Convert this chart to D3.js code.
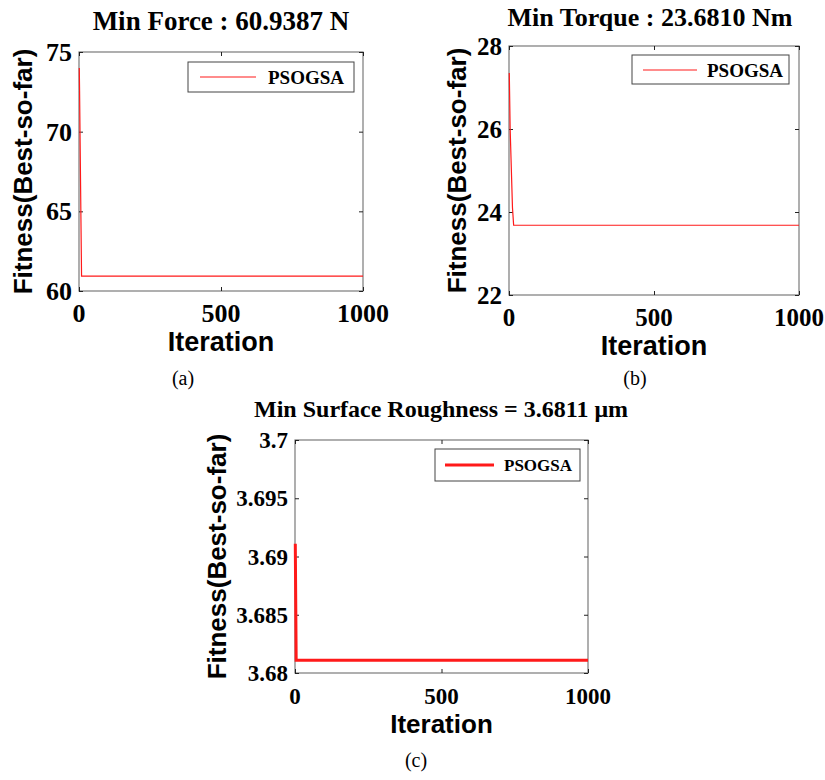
<!DOCTYPE html>
<html>
<head>
<meta charset="utf-8">
<script src="https://cdn.jsdelivr.net/npm/d3@7"></script>
<style>
  body { margin: 0; background: #fff; }
  .tick-label { font-family: "Liberation Serif", "Times New Roman", serif; font-weight: bold; }
  .title { font-family: "Liberation Serif", "Times New Roman", serif; font-weight: bold; }
  .axis-label { font-family: "Liberation Sans", Arial, sans-serif; font-weight: bold; }
  .caption { font-family: "Liberation Serif", "Times New Roman", serif; font-size: 20px; }
  .legend-text { font-family: "Liberation Serif", "Times New Roman", serif; font-weight: bold; }
</style>
</head>
<body>
<div id="chart"></div>
<script>
// data
const iterationTicks = [0, 500, 1000]

const forceTicks = [60, 65, 70, 75]
const forceIter = [1, 2, 9, 1000]
const forceBest = [74.0, 72.6, 60.9387, 60.9387]

const torqueTicks = [22, 24, 26, 28]
const torqueIter = [1, 4, 12, 16, 1000]
const torqueBest = [27.35, 26.0, 24.1, 23.681, 23.681]

const roughTicks = [3.68, 3.685, 3.69, 3.695, 3.7]
const roughIter = [1, 4, 1000]
const roughBest = [3.6911, 3.6811, 3.6811]

const legendName = "PSOGSA"

const svg = d3.select("#chart")
    .append("svg")
    .attr("width", 825)
    .attr("height", 780)

const panels = [
    {
        title: "Min Force : 60.9387 N", caption: "(a)",
        x: 79, y: 52, w: 284, h: 239,
        yDomain: [60, 75], yTicks: forceTicks, yFormat: d3.format("d"),
        iter: forceIter, vals: forceBest, lineWidth: 1.2,
        titleX: 221, titleY: 30, titleSize: 27, tickSize: 26, labelSize: 27,
        captionX: 183, captionY: 385, yLabelX: 23,
        legend: { x: 188, y: 62, w: 166, h: 30, x1: 12, x2: 68, tx: 80, size: 19 }
    },
    {
        title: "Min Torque : 23.6810 Nm", caption: "(b)",
        x: 509, y: 46, w: 290, h: 249,
        yDomain: [22, 28], yTicks: torqueTicks, yFormat: d3.format("d"),
        iter: torqueIter, vals: torqueBest, lineWidth: 1.2,
        titleX: 650, titleY: 26, titleSize: 26, tickSize: 25, labelSize: 27,
        captionX: 635, captionY: 385, yLabelX: 457,
        legend: { x: 632, y: 55, w: 157, h: 29, x1: 11, x2: 65, tx: 75, size: 19 }
    },
    {
        title: "Min Surface Roughness = 3.6811 \u03bcm", caption: "(c)",
        x: 295, y: 440, w: 293, h: 233,
        yDomain: [3.68, 3.7], yTicks: roughTicks, yFormat: d => String(+d.toFixed(3)),
        iter: roughIter, vals: roughBest, lineWidth: 3,
        titleX: 441, titleY: 417, titleSize: 24, tickSize: 23, labelSize: 26,
        captionX: 416, captionY: 767, yLabelX: 217,
        legend: { x: 435, y: 449, w: 145, h: 32, x1: 10, x2: 59, tx: 69, size: 17 }
    }
]

function drawPanel(p) {
    const g = svg.append("g")
        .attr("transform", `translate(${p.x}, ${p.y})`)

    const xScale = d3.scaleLinear()
        .domain([0, 1000])
        .range([0, p.w])

    const yScale = d3.scaleLinear()
        .domain(p.yDomain)
        .range([p.h, 0])

    // box
    g.append("rect")
        .attr("width", p.w)
        .attr("height", p.h)
        .attr("fill", "none")
        .attr("stroke", "#7a7a7a")
        .attr("stroke-width", 1.2)

    // inward ticks on all four sides
    const xAxis = d3.axisBottom(xScale).tickValues(iterationTicks).tickSizeInner(-4).tickSizeOuter(0).tickFormat("")
    const xAxisTop = d3.axisTop(xScale).tickValues(iterationTicks).tickSizeInner(-4).tickSizeOuter(0).tickFormat("")
    const yAxis = d3.axisLeft(yScale).tickValues(p.yTicks).tickSizeInner(-4).tickSizeOuter(0).tickFormat("")
    const yAxisRight = d3.axisRight(yScale).tickValues(p.yTicks).tickSizeInner(-4).tickSizeOuter(0).tickFormat("")

    g.append("g").attr("transform", `translate(0, ${p.h})`).call(xAxis)
    g.append("g").call(xAxisTop)
    g.append("g").call(yAxis)
    g.append("g").attr("transform", `translate(${p.w}, 0)`).call(yAxisRight)
    g.selectAll(".domain").remove()
    g.selectAll(".tick line").attr("stroke", "#222")

    // tick labels
    g.selectAll(".x-tick-label")
        .data(iterationTicks)
        .join("text")
        .attr("class", "tick-label")
        .style("font-size", p.tickSize + "px")
        .attr("x", d => xScale(d))
        .attr("y", p.h + 31)
        .attr("text-anchor", "middle")
        .text(d => d)

    g.selectAll(".y-tick-label")
        .data(p.yTicks)
        .join("text")
        .attr("class", "tick-label")
        .style("font-size", p.tickSize + "px")
        .attr("x", -7)
        .attr("y", d => yScale(d))
        .attr("dy", "0.35em")
        .attr("text-anchor", "end")
        .text(p.yFormat)

    // line
    const points = p.iter.map((it, i) => [it, p.vals[i]])
    const line = d3.line()
        .x(d => xScale(d[0]))
        .y(d => yScale(d[1]))

    g.append("path")
        .datum(points)
        .attr("fill", "none")
        .attr("stroke", "#ff1a1a")
        .attr("stroke-width", p.lineWidth)
        .attr("d", line)

    // legend
    const lg = svg.append("g")
        .attr("transform", `translate(${p.legend.x}, ${p.legend.y})`)
    const midY = Math.round(p.legend.h / 2)
    lg.append("rect")
        .attr("width", p.legend.w)
        .attr("height", p.legend.h)
        .attr("fill", "#fff")
        .attr("stroke", "#444")
        .attr("stroke-width", 1)
    lg.append("line")
        .attr("x1", p.legend.x1)
        .attr("x2", p.legend.x2)
        .attr("y1", midY)
        .attr("y2", midY)
        .attr("stroke", "#ff1a1a")
        .attr("stroke-width", p.lineWidth)
    lg.append("text")
        .attr("class", "legend-text")
        .style("font-size", p.legend.size + "px")
        .attr("x", p.legend.tx)
        .attr("y", midY)
        .attr("dy", "0.35em")
        .text(legendName)

    // title
    svg.append("text")
        .attr("class", "title")
        .style("font-size", p.titleSize + "px")
        .attr("x", p.titleX)
        .attr("y", p.titleY)
        .attr("text-anchor", "middle")
        .text(p.title)

    // axis labels
    svg.append("text")
        .attr("class", "axis-label")
        .style("font-size", p.labelSize + "px")
        .attr("x", p.x + p.w / 2)
        .attr("y", p.y + p.h + 60)
        .attr("text-anchor", "middle")
        .text("Iteration")

    svg.append("text")
        .attr("class", "axis-label")
        .style("font-size", "26px")
        .attr("transform", `translate(${p.yLabelX}, ${p.y + p.h / 2}) rotate(-90)`)
        .attr("dy", "0.35em")
        .attr("text-anchor", "middle")
        .text("Fitness(Best-so-far)")

    // caption
    svg.append("text")
        .attr("class", "caption")
        .attr("x", p.captionX)
        .attr("y", p.captionY)
        .attr("text-anchor", "middle")
        .text(p.caption)
}

panels.forEach(drawPanel)
</script>
</body>
</html>
